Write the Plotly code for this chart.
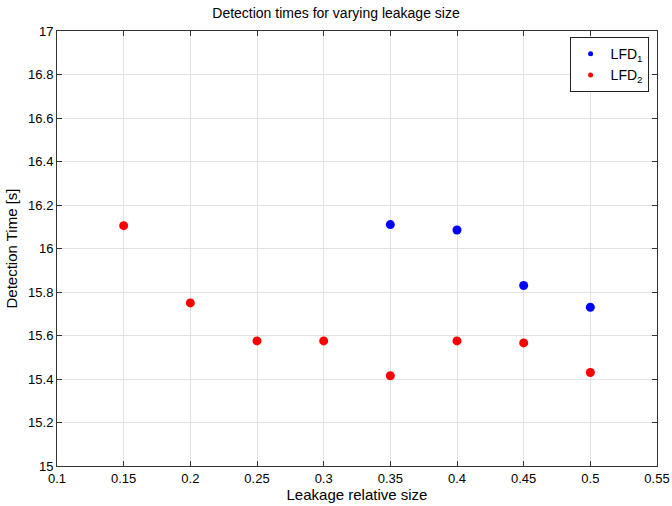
import plotly.graph_objects as go

lfd1_x = [0.35, 0.40, 0.45, 0.50]
lfd1_y = [16.11, 16.085, 15.83, 15.73]
lfd2_x = [0.15, 0.20, 0.25, 0.30, 0.35, 0.40, 0.45, 0.50]
lfd2_y = [16.105, 15.75, 15.575, 15.575, 15.415, 15.575, 15.566, 15.43]
x_ticks = [0.1, 0.15, 0.2, 0.25, 0.3, 0.35, 0.4, 0.45, 0.5, 0.55]
y_ticks = [15, 15.2, 15.4, 15.6, 15.8, 16, 16.2, 16.4, 16.6, 16.8, 17]

font = "Liberation Sans, Arial, sans-serif"
fig = go.Figure()
fig.add_trace(go.Scatter(x=lfd1_x, y=lfd1_y, mode="markers", showlegend=False,
                         marker=dict(color="#0000ff", size=9)))
fig.add_trace(go.Scatter(x=lfd2_x, y=lfd2_y, mode="markers", showlegend=False,
                         marker=dict(color="#ff0000", size=9)))
fig.add_trace(go.Scatter(x=[None], y=[None], mode="markers", name="LFD<sub>1</sub>",
                         marker=dict(color="#0000ff", size=5)))
fig.add_trace(go.Scatter(x=[None], y=[None], mode="markers", name="LFD<sub>2</sub>",
                         marker=dict(color="#ff0000", size=5)))

axis_common = dict(showline=True, linecolor="#333333", linewidth=1, mirror="ticks",
                   ticks="inside", ticklen=5, tickcolor="#333333", automargin=False,
                   showgrid=True, gridcolor="#e3e3e3", gridwidth=1, zeroline=False,
                   tickfont=dict(family=font, size=13, color="black"))
fig.update_layout(
    width=672, height=506,
    margin=dict(l=57, r=15, t=31, b=40),
    paper_bgcolor="white", plot_bgcolor="white",
    title=dict(text="Detection times for varying leakage size", x=0.5, xanchor="center",
               y=0.975, yanchor="middle", font=dict(family=font, size=14, color="black")),
    xaxis=dict(range=[0.1, 0.55], tickvals=x_ticks, ticktext=[f"{v:g}" for v in x_ticks],
               title=dict(text="Leakage relative size", standoff=4,
                          font=dict(family=font, size=15, color="black")),
               **axis_common),
    yaxis=dict(range=[15, 17], tickvals=y_ticks, ticktext=[f"{v:g}" for v in y_ticks],
               title=dict(text="Detection Time [s]", standoff=6,
                          font=dict(family=font, size=15, color="black")),
               **axis_common),
    legend=dict(x=0.986, y=0.986, xanchor="right", yanchor="top",
                bgcolor="white", bordercolor="#222222", borderwidth=1,
                font=dict(family=font, size=14, color="black"),
                itemwidth=30, tracegroupgap=0),
)
fig.write_html("out.html")
